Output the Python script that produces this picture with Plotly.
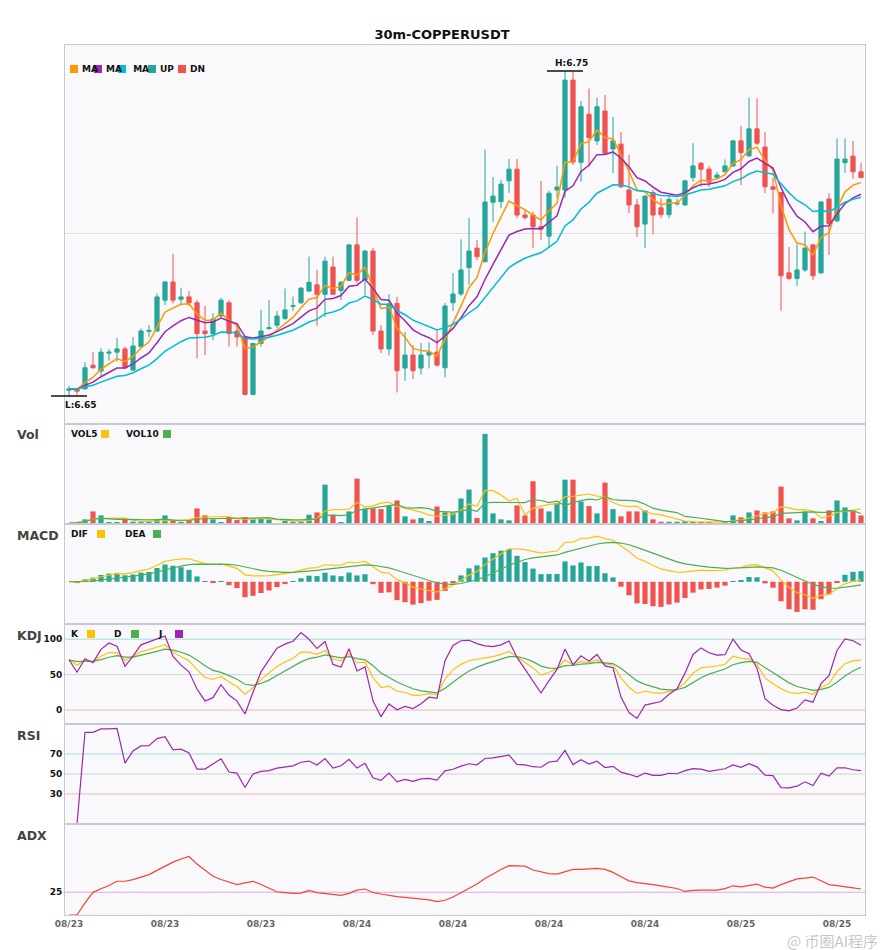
import numpy as np
import pandas as pd
import plotly.graph_objects as go
from plotly.subplots import make_subplots

# 30m candles (100 bars)
open_ = [6.6518, 6.6522, 6.6522, 6.6595, 6.6577, 6.6632, 6.6635, 6.6645, 6.6580, 6.6652,
         6.6699, 6.6700, 6.6795, 6.6851, 6.6798, 6.6805, 6.6787, 6.6700, 6.6692, 6.6746,
         6.6787, 6.6700, 6.6682, 6.6505, 6.6662, 6.6707, 6.6718, 6.6739, 6.6776, 6.6787,
         6.6823, 6.6842, 6.6813, 6.6897, 6.6825, 6.6856, 6.6965, 6.6857, 6.6946, 6.6700,
         6.6645, 6.6785, 6.6586, 6.6626, 6.6586, 6.6626, 6.6635, 6.6587, 6.6787, 6.6814,
         6.6895, 6.6955, 6.6913, 6.7096, 6.7098, 6.7162, 6.7198, 6.7057, 6.7057, 6.7021,
         6.6992, 6.7134, 6.7134, 6.7472, 6.7219, 6.7367, 6.7285, 6.7377, 6.7260, 6.7275,
         6.7134, 6.7088, 6.7029, 6.7126, 6.7079, 6.7058, 6.7091, 6.7088, 6.7172, 6.7216,
         6.7198, 6.7172, 6.7190, 6.7208, 6.7285, 6.7239, 6.7322, 6.7266, 6.7144, 6.7126,
         6.6879, 6.6862, 6.6888, 6.6965, 6.6879, 6.7106, 6.7039, 6.7218, 6.7238, 6.7190]
high = [6.6531, 6.6522, 6.6604, 6.6636, 6.6647, 6.6645, 6.6679, 6.6652, 6.6681, 6.6708,
        6.6718, 6.6816, 6.6854, 6.6937, 6.6833, 6.6823, 6.6795, 6.6777, 6.6755, 6.6802,
        6.6795, 6.6724, 6.6685, 6.6663, 6.6765, 6.6795, 6.6762, 6.6831, 6.6806, 6.6835,
        6.6929, 6.6888, 6.6929, 6.6929, 6.6854, 6.6968, 6.7049, 6.6949, 6.6955, 6.6718,
        6.6813, 6.6805, 6.6697, 6.6657, 6.6663, 6.6666, 6.6700, 6.6786, 6.6878, 6.6982,
        6.7048, 6.6980, 6.7259, 6.7173, 6.7165, 6.7229, 6.7229, 6.7075, 6.7067, 6.7162,
        6.7132, 6.7208, 6.7500, 6.7497, 6.7408, 6.7446, 6.7418, 6.7426, 6.7359, 6.7312,
        6.7242, 6.7106, 6.7118, 6.7134, 6.7109, 6.7118, 6.7106, 6.7165, 6.7278, 6.7220,
        6.7208, 6.7189, 6.7228, 6.7288, 6.7331, 6.7418, 6.7416, 6.7313, 6.7172, 6.7126,
        6.6959, 6.6967, 6.7006, 6.6968, 6.7100, 6.7124, 6.7293, 6.7293, 6.7285, 6.7218]
low = [6.6500, 6.6503, 6.6520, 6.6585, 6.6559, 6.6609, 6.6606, 6.6583, 6.6578, 6.6650,
       6.6682, 6.6698, 6.6780, 6.6785, 6.6780, 6.6777, 6.6616, 6.6626, 6.6672, 6.6743,
       6.6652, 6.6652, 6.6502, 6.6504, 6.6652, 6.6706, 6.6709, 6.6734, 6.6762, 6.6783,
       6.6820, 6.6716, 6.6744, 6.6811, 6.6795, 6.6854, 6.6848, 6.6811, 6.6688, 6.6632,
       6.6625, 6.6511, 6.6547, 6.6552, 6.6566, 6.6585, 6.6592, 6.6557, 6.6762, 6.6808,
       6.6842, 6.6918, 6.6912, 6.7036, 6.7078, 6.7125, 6.7047, 6.7043, 6.6955, 6.6980,
       6.6955, 6.7110, 6.7110, 6.7211, 6.7159, 6.7206, 6.7272, 6.7242, 6.7186, 6.7140,
       6.7063, 6.6990, 6.6955, 6.6998, 6.7047, 6.7047, 6.7085, 6.7085, 6.7159, 6.7144,
       6.7143, 6.7168, 6.7188, 6.7205, 6.7149, 6.7235, 6.7272, 6.7124, 6.7062, 6.6763,
       6.6857, 6.6839, 6.6882, 6.6857, 6.6875, 6.6934, 6.7035, 6.7187, 6.7168, 6.7170]
close = [6.6522, 6.6515, 6.6587, 6.6587, 6.6635, 6.6635, 6.6645, 6.6587, 6.6654, 6.6700,
         6.6702, 6.6805, 6.6851, 6.6795, 6.6805, 6.6787, 6.6692, 6.6692, 6.6737, 6.6795,
         6.6692, 6.6682, 6.6505, 6.6662, 6.6700, 6.6710, 6.6746, 6.6765, 6.6778, 6.6832,
         6.6850, 6.6813, 6.6915, 6.6813, 6.6850, 6.6965, 6.6856, 6.6946, 6.6700, 6.6645,
         6.6783, 6.6578, 6.6626, 6.6578, 6.6626, 6.6634, 6.6595, 6.6777, 6.6814, 6.6888,
         6.6946, 6.6929, 6.7097, 6.7115, 6.7152, 6.7198, 6.7057, 6.7049, 6.7021, 6.7013,
         6.7124, 6.7143, 6.7472, 6.7220, 6.7390, 6.7295, 6.7390, 6.7247, 6.7285, 6.7144,
         6.7088, 6.7021, 6.7115, 6.7057, 6.7058, 6.7105, 6.7094, 6.7162, 6.7208, 6.7198,
         6.7158, 6.7180, 6.7208, 6.7285, 6.7249, 6.7322, 6.7278, 6.7144, 6.7136, 6.6870,
         6.6862, 6.6888, 6.6955, 6.6870, 6.7097, 6.7031, 6.7229, 6.7229, 6.7190, 6.7172]
volume = [300, 500, 1400, 3800, 2600, 500, 500, 1400, 700, 700,
          500, 1200, 2600, 1200, 500, 1200, 4700, 2600, 1400, 500,
          2100, 1200, 2100, 1400, 1600, 1400, 200, 1000, 700, 700,
          2800, 3500, 11900, 2800, 500, 3800, 13700, 4700, 4700, 4500,
          5400, 7100, 2300, 1400, 1800, 900, 5300, 3500, 3500, 7700,
          10400, 1800, 27200, 3200, 1400, 1100, 5600, 2600, 12900, 4700,
          3800, 6300, 13400, 13400, 6800, 5400, 3200, 12500, 4500, 2300,
          3800, 3800, 4100, 1400, 700, 700, 700, 900, 700, 500,
          500, 300, 700, 2600, 2000, 3500, 4100, 3500, 3800, 11300,
          1700, 1100, 3800, 1700, 900, 4100, 7100, 5000, 3800, 2600]

times = pd.date_range("2025-08-23 08:00", periods=len(close), freq="30min")
x = list(range(len(close)))

UP = "#26a69a"
DN = "#ef5350"

o = pd.Series(open_)
h = pd.Series(high)
l = pd.Series(low)
c = pd.Series(close)
v = pd.Series(volume)

# moving averages
ma5 = c.ewm(span=5, adjust=False).mean()
ma10 = c.ewm(span=10, adjust=False).mean()
ma20 = c.ewm(span=20, adjust=False).mean()
vol5 = v.rolling(5, min_periods=1).mean()
vol10 = v.rolling(10, min_periods=1).mean()

# MACD
dif = c.ewm(span=12, adjust=False).mean() - c.ewm(span=26, adjust=False).mean()
dea = dif.ewm(span=9, adjust=False).mean()
hist = (dif - dea) * 2

# KDJ
low9 = l.rolling(9, min_periods=1).min()
high9 = h.rolling(9, min_periods=1).max()
rsv = (c - low9) / (high9 - low9) * 100
k = rsv.ewm(com=2, adjust=False).mean()
d = k.ewm(com=2, adjust=False).mean()
j = 3 * k - 2 * d

# RSI
delta = c.diff().fillna(0)
gain = delta.clip(lower=0).ewm(alpha=1 / 14, adjust=False).mean()
loss = (-delta.clip(upper=0)).ewm(alpha=1 / 14, adjust=False).mean()
rsi = 100 * gain / (gain + loss)

# ADX
pc = c.shift()
tr = pd.concat([h - l, (h - pc).abs(), (l - pc).abs()], axis=1).max(axis=1)
up_move = h.diff()
dn_move = -l.diff()
plus_dm = pd.Series(np.where((up_move > dn_move) & (up_move > 0), up_move, 0.0))
minus_dm = pd.Series(np.where((dn_move > up_move) & (dn_move > 0), dn_move, 0.0))
atr = tr.ewm(span=14, adjust=False).mean()
pdi = 100 * plus_dm.ewm(span=14, adjust=False).mean() / atr
mdi = 100 * minus_dm.ewm(span=14, adjust=False).mean() / atr
dx = (100 * (pdi - mdi).abs() / (pdi + mdi)).fillna(0)
adx = dx.ewm(span=14, adjust=False).mean()

bar_colors = [UP if cc >= oo else DN for oo, cc in zip(open_, close)]
hist_colors = [UP if hv >= 0 else DN for hv in hist]

fig = make_subplots(rows=6, cols=1, shared_xaxes=True, vertical_spacing=0,
                    row_heights=[379, 100, 100, 100, 100, 91])

fig.add_trace(go.Candlestick(x=x, open=open_, high=high, low=low, close=close,
                             increasing=dict(line=dict(color=UP, width=1), fillcolor=UP),
                             decreasing=dict(line=dict(color=DN, width=1), fillcolor=DN),
                             whiskerwidth=0), row=1, col=1)
fig.add_trace(go.Scatter(x=x, y=ma5, mode="lines", line=dict(color="#ff9800", width=1.5)), row=1, col=1)
fig.add_trace(go.Scatter(x=x, y=ma10, mode="lines", line=dict(color="#9c27b0", width=1.5)), row=1, col=1)
fig.add_trace(go.Scatter(x=x, y=ma20, mode="lines", line=dict(color="#00bcd4", width=1.5)), row=1, col=1)

fig.add_trace(go.Bar(x=x, y=volume, marker=dict(color=bar_colors, line=dict(width=0))), row=2, col=1)
fig.add_trace(go.Scatter(x=x, y=vol5, mode="lines", line=dict(color="#ffc107", width=1.2)), row=2, col=1)
fig.add_trace(go.Scatter(x=x, y=vol10, mode="lines", line=dict(color="#4caf50", width=1.2)), row=2, col=1)

fig.add_trace(go.Bar(x=x, y=hist, marker=dict(color=hist_colors, line=dict(width=0))), row=3, col=1)
fig.add_trace(go.Scatter(x=x, y=dif, mode="lines", line=dict(color="#ffc107", width=1.2)), row=3, col=1)
fig.add_trace(go.Scatter(x=x, y=dea, mode="lines", line=dict(color="#4caf50", width=1.2)), row=3, col=1)

fig.add_trace(go.Scatter(x=x, y=k, mode="lines", line=dict(color="#ffc107", width=1.2)), row=4, col=1)
fig.add_trace(go.Scatter(x=x, y=d, mode="lines", line=dict(color="#4caf50", width=1.2)), row=4, col=1)
fig.add_trace(go.Scatter(x=x, y=j, mode="lines", line=dict(color="#9c27b0", width=1.2)), row=4, col=1)

fig.add_trace(go.Scatter(x=x, y=rsi, mode="lines", line=dict(color="#9c27b0", width=1.2)), row=5, col=1)

fig.add_trace(go.Scatter(x=x, y=adx, mode="lines", line=dict(color="#f44336", width=1.2)), row=6, col=1)

# reference lines
ref_lines = [(4, 100, "#a6dbd8"), (4, 50, "#d2d2d2"), (4, 0, "#f6b3b3"),
             (5, 70, "#a6dbd8"), (5, 50, "#d2d2d2"), (5, 30, "#f6b3b3"),
             (6, 25, "#dcaae6")]
for r, yv, col in ref_lines:
    fig.add_hline(y=yv, line=dict(color=col, width=1), layer="below", row=r, col=1)
fig.add_hline(y=6.70, line=dict(color="#e0e0e0", width=1), layer="below", row=1, col=1)

BOLD = dict(family="DejaVu Sans", weight="bold")
AX = dict(showline=True, mirror=True, linecolor="#c8c8d0", linewidth=1,
          showgrid=False, zeroline=False)

fig.update_xaxes(**AX, range=[-0.5, len(x) - 0.5], showticklabels=False, ticks="")
fig.update_xaxes(showticklabels=True, tickvals=x[::12],
                 ticktext=[t.strftime("%m/%d") for t in times[::12]],
                 tickfont=dict(**BOLD, size=9, color="#666666"), row=6, col=1)
fig.update_layout(xaxis_rangeslider_visible=False)

rng = max(high) - min(low)
fig.update_yaxes(**AX, ticks="")
fig.update_yaxes(showticklabels=False, range=[min(low) - 0.086 * rng, max(high) + 0.08 * rng], row=1, col=1)
fig.update_yaxes(showticklabels=False, range=[0, max(volume) * 1.11], row=2, col=1)
mvals = pd.concat([dif, dea, hist])
mpad = 0.16 * (mvals.max() - mvals.min())
fig.update_yaxes(showticklabels=False, range=[mvals.min() - mpad, mvals.max() + mpad], row=3, col=1)
TICKF = dict(**BOLD, size=9, color="#111111")
fig.update_yaxes(range=[-19.7, 121.5], tickvals=[0, 50, 100], tickfont=TICKF, row=4, col=1)
fig.update_yaxes(range=[0, 100], tickvals=[30, 50, 70], tickfont=TICKF, row=5, col=1)
fig.update_yaxes(range=[0, 100], tickvals=[25], tickfont=TICKF, row=6, col=1)


# page pixels -> paper (plot area spans 65..865 x 45..915 on the page)
def px_x(px):
    return (px - 65) / 800


def px_y(py):
    return (915 - py) / 870


def label(txt, px, py, size=9, color="#111111", xanchor="left"):
    fig.add_annotation(text=txt, xref="paper", yref="paper", x=px_x(px), y=px_y(py),
                       xanchor=xanchor, yanchor="middle", showarrow=False,
                       font=dict(**BOLD, size=size, color=color))


def swatch(px, py, color):
    fig.add_shape(type="rect", xref="paper", yref="paper",
                  x0=px_x(px), x1=px_x(px + 8), y0=px_y(py + 4), y1=px_y(py - 4),
                  fillcolor=color, line=dict(width=0), layer="above")


# panel names
for name, py in [("Vol", 434), ("MACD", 535), ("KDJ", 635), ("RSI", 735), ("ADX", 835)]:
    label(name, 15, py, size=12.5, color="#444444")

# main legend
for px, col, txt in [(70, "#ff9800", "MA"), (94, "#9c27b0", "MA"), (118, "#00bcd4", " MA"),
                     (148, UP, "UP"), (178, DN, "DN")]:
    label(txt, px + 10, 69)
    swatch(px, 69, col)

# sub legends
for txt, tx, sx, col, py in [("VOL5", 69, 101, "#ffc107", 434), ("VOL10", 124, 163, "#4caf50", 434),
                             ("DIF", 69, 97, "#ffc107", 534), ("DEA", 123, 153, "#4caf50", 534),
                             ("K", 69, 87, "#ffc107", 634), ("D", 112, 131, "#4caf50", 634),
                             ("J", 156, 175, "#9c27b0", 634)]:
    label(txt, tx, py)
    swatch(sx, py, col)

# high / low markers
hi_i = int(np.argmax(high))
lo_i = int(np.argmin(low))
for idx, val, txt, ys, xs in [(hi_i, max(high), f"H:{max(high):.2f}", 8, 6),
                              (lo_i, min(low), f"L:{min(low):.2f}", -9, -6)]:
    xc = (idx + 0.5) / len(x)
    fig.add_shape(type="line", xref="paper", yref="y", x0=xc - 18 / 800, x1=xc + 18 / 800,
                  y0=val, y1=val, line=dict(color="#111111", width=1.5))
    fig.add_annotation(text=txt, xref="paper", yref="y", x=xc, y=val, yshift=ys, xshift=xs,
                       showarrow=False, font=dict(**BOLD, size=9, color="#111111"))

# watermark from the screenshot
fig.add_annotation(text="@ 币圈AI程序", xref="paper", yref="paper", x=px_x(880), y=px_y(940),
                   xanchor="right", yanchor="middle", showarrow=False,
                   font=dict(family="Noto Sans CJK SC", size=15, color="rgba(150,150,150,0.55)"))

fig.update_layout(
    width=885, height=950,
    margin=dict(l=57, r=28, t=37, b=43),
    paper_bgcolor="white",
    plot_bgcolor="#f9f9fb",
    showlegend=False,
    bargap=0.35,
    boxgap=0.25,
    title=dict(text="30m-COPPERUSDT", x=(442 - 8) / 885, xanchor="center", y=1 - 26 / 950, yanchor="middle",
               font=dict(**BOLD, size=13, color="#111111")),
    font=dict(family="DejaVu Sans"),
)

fig.write_html("out.html")
